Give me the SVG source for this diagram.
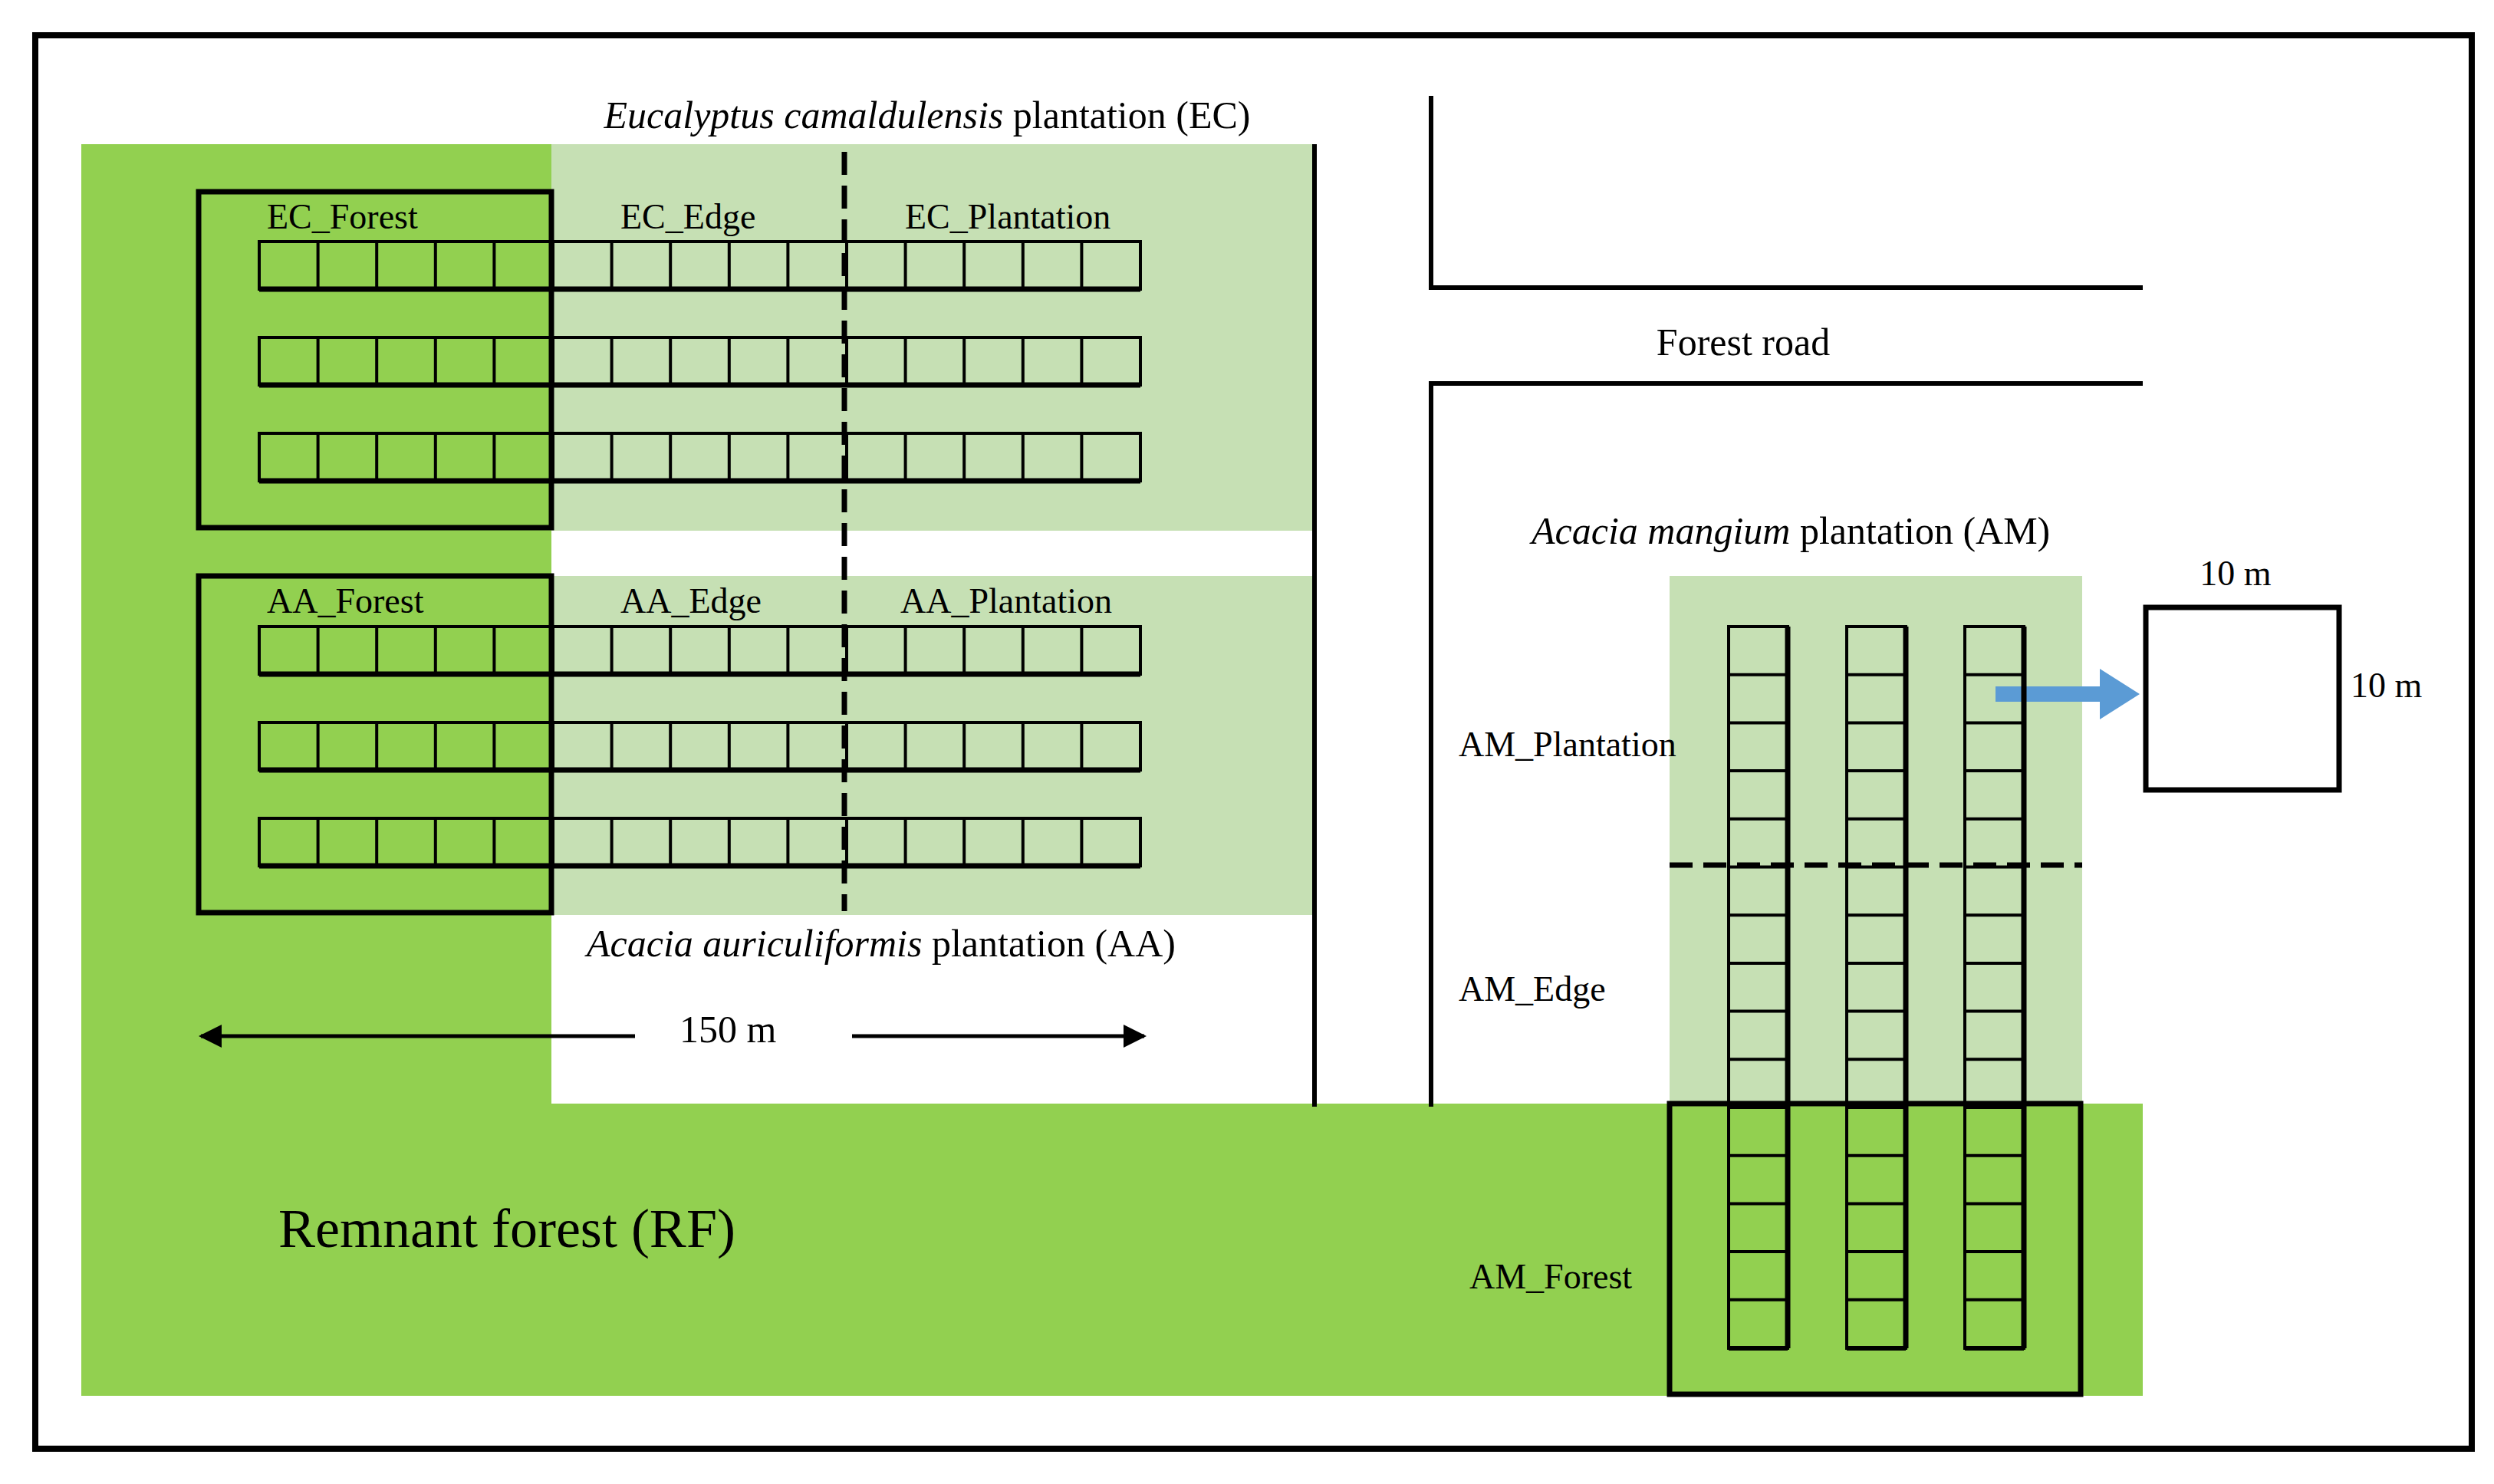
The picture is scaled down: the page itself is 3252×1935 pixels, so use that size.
<svg xmlns="http://www.w3.org/2000/svg" width="3252" height="1935" viewBox="0 0 3252 1935">
<defs>
<style>
text{font-family:"Liberation Serif","Times New Roman",serif;fill:#000}
.t{font-size:46px}
.big{font-size:50px}
.cell{fill:none;stroke:#000;stroke-width:4}
.box{fill:none;stroke:#000;stroke-width:7}
.ln{stroke:#000;stroke-width:6;fill:none}
.dash{stroke:#000;stroke-width:7;stroke-dasharray:30,14;fill:none}
</style>
<marker id="ah" viewBox="0 0 10 10" refX="9" refY="5" markerWidth="6" markerHeight="6" orient="auto-start-reverse"><path d="M0,0L10,5L0,10z" fill="#000"/></marker>
<pattern id="rowp" x="338" y="0" width="76.6" height="2000" patternUnits="userSpaceOnUse"><rect x="0" y="0" width="76.6" height="2000" fill="none"/></pattern>
</defs>
<rect width="3252" height="1935" fill="#fff"/>
<rect x="46" y="46" width="3177" height="1843" fill="none" stroke="#000" stroke-width="8"/>
<g id="areas">
<rect x="106" y="188" width="613" height="1632" fill="#92D050"/>
<rect x="106" y="1439" width="2688" height="381" fill="#92D050"/>
<rect x="719" y="188" width="995" height="504" fill="#C6E0B4"/>
<rect x="719" y="751" width="995" height="442" fill="#C6E0B4"/>
<rect x="2177" y="751" width="538" height="688" fill="#C6E0B4"/>
</g>
<g id="connectors">
<line class="ln" x1="1714" y1="188" x2="1714" y2="1443"/>
<line class="dash" x1="1101" y1="198" x2="1101" y2="1188"/>
<line class="dash" x1="2177" y1="1128" x2="2715" y2="1128"/>
<polyline class="ln" points="1866,125 1866,375 2794,375"/>
<polyline class="ln" points="2794,500 1866,500 1866,1443"/>
<line x1="262" y1="1351" x2="828" y2="1351" stroke="#000" stroke-width="5" marker-start="url(#ah)"/>
<line x1="1111" y1="1351" x2="1492" y2="1351" stroke="#000" stroke-width="5" marker-end="url(#ah)"/>
<path d="M2602,895H2738V872L2790,905L2738,938V915H2602z" fill="#5B9BD5"/>
</g>
<g id="grids">
<g id="rowtemplate">
<rect class="cell" x="338" y="315" width="1149" height="62"/>
<path class="cell" d="M414.6,315V377M491.2,315V377M567.8,315V377M644.4,315V377M721,315V377M797.6,315V377M874.2,315V377M950.8,315V377M1027.4,315V377M1104,315V377M1180.6,315V377M1257.2,315V377M1333.8,315V377M1410.4,315V377"/>
<line x1="338" y1="377" x2="1487" y2="377" stroke="#000" stroke-width="7"/>
</g>
<use href="#rowtemplate" y="125"/>
<use href="#rowtemplate" y="250"/>
<use href="#rowtemplate" y="502"/>
<use href="#rowtemplate" y="627"/>
<use href="#rowtemplate" y="752"/>
<g id="ladder">
<rect class="cell" x="2254" y="817" width="77" height="941"/>
<path class="cell" d="M2254,879.7H2331M2254,942.4H2331M2254,1005.1H2331M2254,1067.8H2331M2254,1130.5H2331M2254,1193.2H2331M2254,1255.9H2331M2254,1318.6H2331M2254,1381.3H2331M2254,1444H2331M2254,1506.7H2331M2254,1569.4H2331M2254,1632.1H2331M2254,1694.8H2331"/>
<line x1="2331" y1="817" x2="2331" y2="1758" stroke="#000" stroke-width="7"/>
<line x1="2254" y1="1758" x2="2331" y2="1758" stroke="#000" stroke-width="6"/>
</g>
<use href="#ladder" x="154"/>
<use href="#ladder" x="308"/>
</g>
<g id="ec_forest"><rect class="box" x="259" y="250" width="460" height="438"/><text class="t" x="348" y="298">EC_Forest</text></g>
<g id="ec_edge"><text class="t" x="809" y="298">EC_Edge</text></g>
<g id="ec_plantation"><text class="t" x="1180" y="298">EC_Plantation</text></g>
<g id="aa_forest"><rect class="box" x="259" y="751" width="460" height="439"/><text class="t" x="348" y="799">AA_Forest</text></g>
<g id="aa_edge"><text class="t" x="809" y="799">AA_Edge</text></g>
<g id="aa_plantation"><text class="t" x="1174" y="799">AA_Plantation</text></g>
<g id="am_forest"><rect class="box" x="2177" y="1439" width="536" height="379"/><text class="t" x="1916" y="1680">AM_Forest</text></g>
<g id="am_edge"><text class="t" x="1902" y="1305">AM_Edge</text></g>
<g id="am_plantation"><text class="t" x="1902" y="986">AM_Plantation</text></g>
<g id="plot"><rect class="box" x="2798" y="792" width="252" height="238"/><text class="t" x="2915" y="763" text-anchor="middle">10 m</text><text class="t" x="3065" y="909">10 m</text></g>
<g id="labels">
<text class="big" x="1209" y="167" text-anchor="middle"><tspan font-style="italic">Eucalyptus camaldulensis</tspan> plantation (EC)</text>
<text class="big" x="765" y="1247"><tspan font-style="italic">Acacia auriculiformis</tspan> plantation (AA)</text>
<text class="big" x="886" y="1359">150 m</text>
<text x="363" y="1626" font-size="72">Remnant forest (RF)</text>
<text class="big" x="2273" y="463" text-anchor="middle">Forest road</text>
<text class="big" x="1997" y="709"><tspan font-style="italic">Acacia mangium</tspan> plantation (AM)</text>
</g>
</svg>
